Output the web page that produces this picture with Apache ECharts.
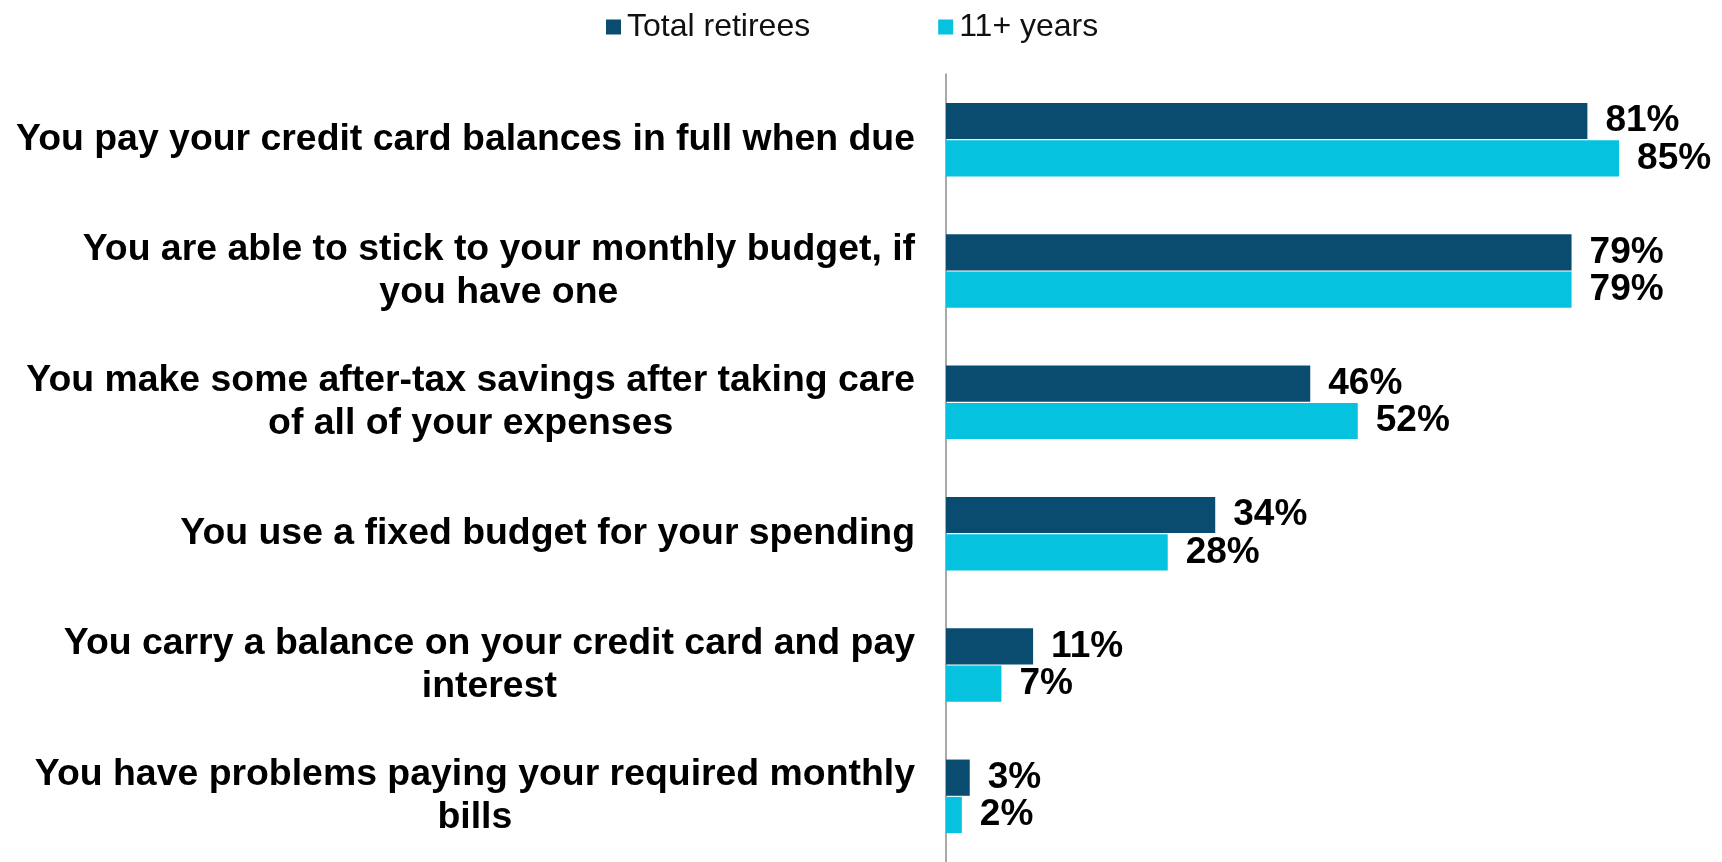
<!DOCTYPE html>
<html lang="en">
<head>
    <meta charset="UTF-8">
    <title>Retiree budgeting habits</title>
    <script src="https://cdn.jsdelivr.net/npm/echarts@6/dist/echarts.min.js"></script>
    <style>
        html, body { margin: 0; padding: 0; background: #fff; }
        #chart { width: 1722px; height: 862px; }
    </style>
</head>
<body>
<div id="chart"></div>
<script type="text/javascript">
    // data
    var categories = [
        ['You pay your credit card balances in full when due'],
        ['You are able to stick to your monthly budget, if', 'you have one'],
        ['You make some after-tax savings after taking care', 'of all of your expenses'],
        ['You use a fixed budget for your spending'],
        ['You carry a balance on your credit card and pay', 'interest'],
        ['You have problems paying your required monthly', 'bills']
    ];
    var seriesNames = ['Total retirees', '11+ years'];
    var totalRetirees = [81, 79, 46, 34, 11, 3];
    var elevenPlus = [85, 79, 52, 28, 7, 2];

    var font = "'Liberation Sans', Arial, sans-serif";
    var labelText = categories.map(function (lines) { return lines.join('\n'); });

    var myChart = echarts.init(document.getElementById('chart'));

    var barLabel = {
        show: true,
        position: 'right',
        distance: 18,
        formatter: '{c}%',
        fontFamily: font,
        fontSize: 37,
        fontWeight: 'bold',
        color: '#000'
    };

    var option = {
        animation: false,
        backgroundColor: '#fff',
        legend: {
            left: 601,
            top: 6,
            itemWidth: 15,
            itemHeight: 15,
            itemGap: 128,
            icon: 'rect',
            textStyle: { fontFamily: font, fontSize: 32, color: '#111', padding: [0, 0, 0, 1] },
            data: seriesNames
        },
        grid: { left: 946, right: 0, top: 74, bottom: -4 },
        xAxis: {
            type: 'value',
            min: 0,
            max: 98,
            show: false,
            splitLine: { show: false }
        },
        yAxis: {
            type: 'category',
            inverse: true,
            data: labelText,
            axisLine: { show: true, lineStyle: { color: '#8c8c8c', width: 1.5 } },
            axisTick: { show: false },
            axisLabel: {
                margin: 31,
                formatter: function (v) {
                    return v.split('\n').map(function (l) { return '{c|' + l + '}'; }).join('\n');
                },
                rich: {
                    c: {
                        align: 'center',
                        fontFamily: font,
                        fontSize: 37.4,
                        fontWeight: 'bold',
                        color: '#000',
                        lineHeight: 43
                    }
                }
            }
        },
        series: [
            {
                name: seriesNames[0],
                type: 'bar',
                data: totalRetirees,
                itemStyle: { color: '#094c6f' },
                barCategoryGap: '44%',
                barGap: '3%',
                label: barLabel
            },
            {
                name: seriesNames[1],
                type: 'bar',
                data: elevenPlus,
                itemStyle: { color: '#05c2df' },
                barCategoryGap: '44%',
                barGap: '3%',
                label: barLabel
            }
        ]
    };

    myChart.setOption(option);
</script>
</body>
</html>
